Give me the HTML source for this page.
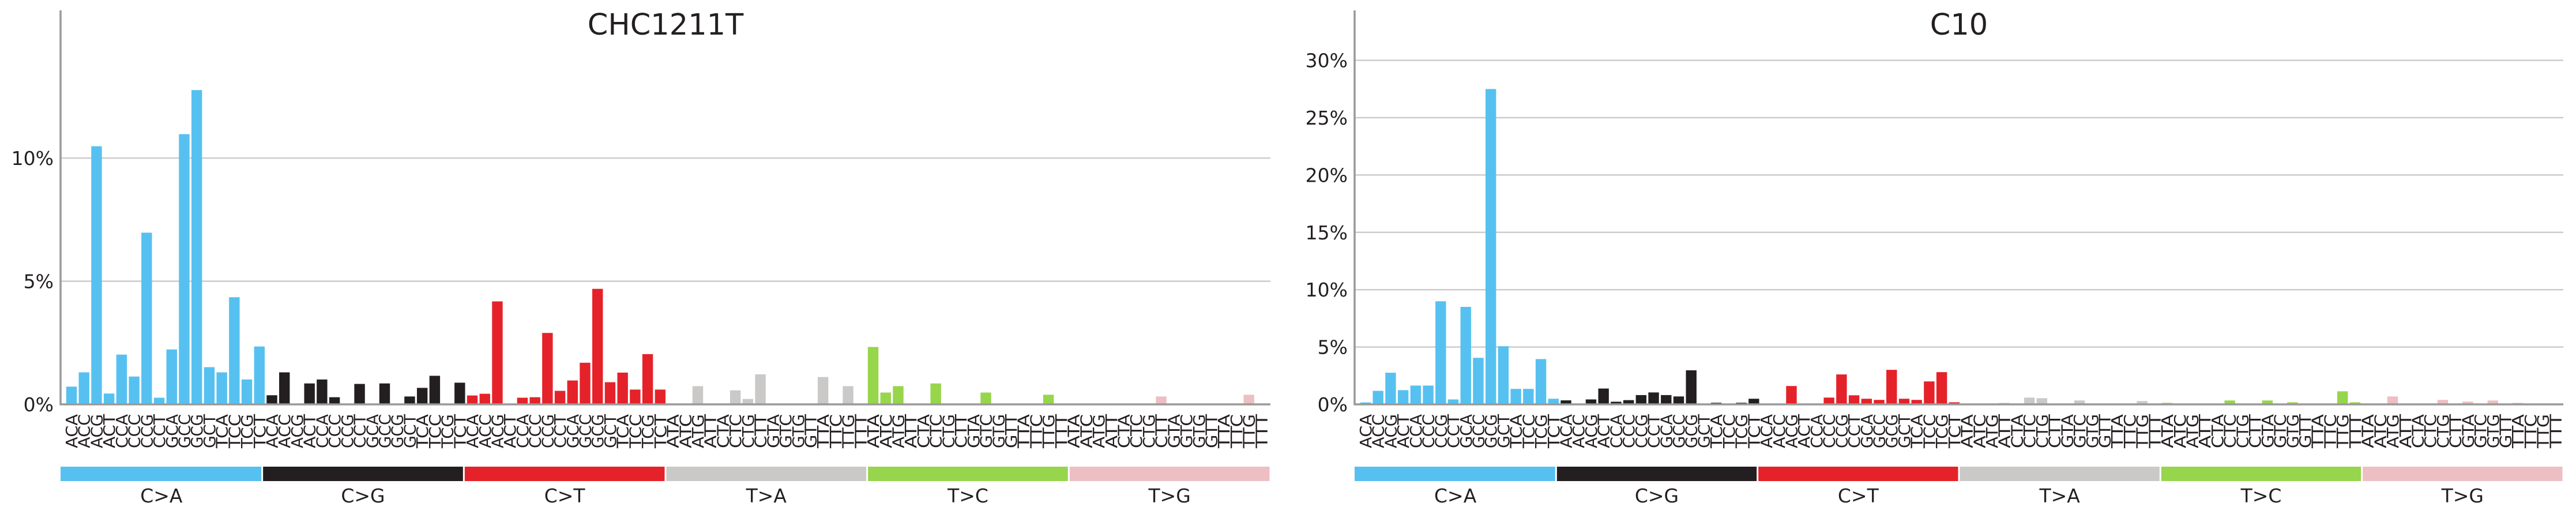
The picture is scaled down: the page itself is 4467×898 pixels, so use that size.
<!DOCTYPE html>
<html><head><meta charset="utf-8"><style>
html,body{margin:0;padding:0;background:#fff;}
svg{display:block;font-family:"DejaVu Sans","Liberation Sans",sans-serif;}
</style></head><body>
<svg id="chart" width="4467" height="898" viewBox="0 0 4467 898" xmlns="http://www.w3.org/2000/svg"></svg>
<script>
const mutationTypes = ["C>A","C>G","C>T","T>A","T>C","T>G"];
const typeColors = ["#56C1F0","#231F20","#E52229","#CAC9C8","#97D54C","#EDBFC2"];
const bases = ["A","C","G","T"];
const panelTitles = ["CHC1211T","C10"];
const leftTicks = [0,5,10];
const rightTicks = [0,5,10,15,20,25,30];
const leftValues = [
 0.72,1.30,10.48,0.44,2.02,1.13,6.97,0.27,2.23,10.97,12.76,1.51,1.30,4.35,1.01,2.35,
 0.37,1.30,0,0.85,1.01,0.29,0,0.83,0,0.85,0,0.32,0.67,1.16,0,0.88,
 0.36,0.43,4.18,0,0.27,0.29,2.90,0.55,0.97,1.69,4.69,0.90,1.29,0.60,2.04,0.60,
 0,0,0.74,0,0,0.57,0.22,1.22,0,0,0,0,1.11,0,0.74,0,
 2.33,0.48,0.74,0,0,0.85,0,0,0,0.48,0,0,0,0,0.39,0,
 0,0,0,0,0,0,0,0.32,0,0,0,0,0,0,0.39,0
];
const rightValues = [
 0.17,1.18,2.76,1.24,1.64,1.64,8.99,0.43,8.50,4.06,27.5,5.07,1.35,1.35,3.95,0.49,
 0.35,0,0.43,1.38,0.23,0.37,0.81,1.04,0.81,0.69,2.97,0,0.14,0,0.14,0.49,
 0,0,1.60,0,0,0.59,2.61,0.79,0.49,0.39,3.01,0.49,0.39,2.00,2.81,0.18,
 0,0,0,0.13,0,0.59,0.54,0,0,0.34,0,0,0,0,0.29,0,
 0.13,0,0,0,0,0.34,0,0,0.34,0,0.18,0,0,0,1.14,0.18,
 0,0,0.69,0,0,0,0.39,0,0.24,0,0.34,0,0.13,0,0,0
];

const NS="http://www.w3.org/2000/svg";
const svg=document.getElementById('chart');
function mk(tag,attrs,parent){const e=document.createElementNS(NS,tag);for(const k in attrs)e.setAttribute(k,attrs[k]);(parent||svg).appendChild(e);return e;}

function drawPanel(p){
  const left = p===0?105:2349;
  const right = p===0?2203:4445;
  const zeroY=701;
  const pxPerPct = p===0?42.7:19.88;
  const ticks = p===0?leftTicks:rightTicks;
  const values = p===0?leftValues:rightValues;
  const y=v=>zeroY - v*pxPerPct;
  const firstBar = left+9.8, pitch=21.72, bw=18.4;
  const x=i=>firstBar+i*pitch;
  const g=mk('g',{});
  
  
  // gridlines & tick labels
  ticks.forEach(t=>{
    if(t>0){
      const gl=mk('line',{x1:left,x2:right,y1:y(t),y2:y(t),stroke:'#cccccc','stroke-width':2.5},g);
      
      
    }
    const tl=mk('text',{x:left-12,y:y(t)+12,'text-anchor':'end','font-size':33,fill:'#231F20'},g);
    tl.textContent=t+'%';
    
    
  });
  // bars
  values.forEach((v,i)=>{
    if(v<=0)return;
    const r=mk('rect',{x:x(i),y:y(v),width:bw,height:zeroY-y(v),fill:typeColors[Math.floor(i/16)]},g);
    
    
  });
  // axes
  const ya=mk('line',{x1:left,x2:left,y1:18,y2:zeroY+1.5,stroke:'#999999','stroke-width':3.5},g);
  
  
  const xa=mk('line',{x1:left,x2:right,y1:zeroY,y2:zeroY,stroke:'#999999','stroke-width':3.5},g);
  
  
  // title
  const tt=mk('text',{x:(left+right)/2,y:60,'text-anchor':'middle','font-size':51,fill:'#231F20'},g);
  tt.textContent=panelTitles[p];
  
  
  // x labels
  for(let i=0;i<96;i++){
    const t=Math.floor(i/16), k=i%16;
    const lab=bases[Math.floor(k/4)]+mutationTypes[t][0]+bases[k%4];
    const cx=x(i)+bw/2;
    const xl=mk('text',{x:0,y:0,transform:`translate(${cx+10},777) rotate(-90)`,'font-size':28,fill:'#231F20',textLength:59,lengthAdjust:'spacingAndGlyphs'},g);
    xl.textContent=lab;
    
    
  }
  // type strips
  const step=(right-left)/6;
  mutationTypes.forEach((m,t)=>{
    const sx=left+t*step;
    const s=mk('rect',{x:sx+(t>0?1.5:0),y:809,width:step-(t>0?1.5:0)-1.5,height:25,fill:typeColors[t]},g);
    
    
    const st=mk('text',{x:sx+step/2,y:871,'text-anchor':'middle','font-size':33,fill:'#231F20'},g);
    st.textContent=m;
    
    
  });
}
drawPanel(0);
drawPanel(1);
</script>
</body></html>
